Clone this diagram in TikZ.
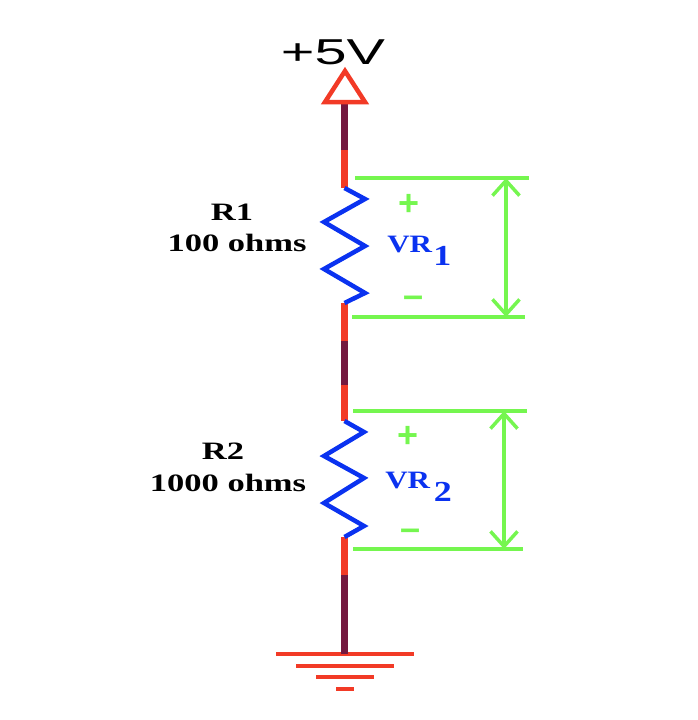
\documentclass[tikz,border=0pt]{standalone}
\usepackage{fontspec}
\setmainfont{Liberation Serif}
\newfontfamily\railfont{Liberation Sans}
\usetikzlibrary{arrows.meta}
\definecolor{wirered}{HTML}{F23A26}
\definecolor{wiredark}{HTML}{74183F}
\definecolor{zigblue}{HTML}{0A32F0}
\definecolor{measgreen}{HTML}{75F64F}
\tikzset{
  redwire/.style={draw=wirered,line width=7pt},
  darkwire/.style={draw=wiredark,line width=7pt},
  zigzag/.style={draw=zigblue,line width=4.5pt,line join=miter},
  measline/.style={draw=measgreen,line width=3.5pt},
  measarrow/.style={measline,{Straight Barb[length=15pt,width=27pt]}-{Straight Barb[length=15pt,width=27pt]}},
  gndline/.style={draw=wirered,line width=3.5pt},
  rlabel/.style={font=\bfseries\fontsize{25}{28}\selectfont,xscale=1.38,transform shape,inner sep=0pt,align=center},
  vlabel/.style={rlabel,xscale=0.9,text=zigblue},
  signlabel/.style={text=measgreen,inner sep=0pt,font=\railfont\bfseries\fontsize{36}{36}\selectfont}
}
\newcommand{\vsub}[1]{\raisebox{-13pt}{\fontsize{29}{29}\selectfont #1}}
\begin{document}
\begin{tikzpicture}[x=1pt,y=-1pt]
   \useasboundingbox (0,0) rectangle (698,720);
   % wire points
   \coordinate (railbase) at (344.5,104);
   \coordinate (railmid) at (344.5,150);
   \coordinate (r1top) at (344.5,188);
   \coordinate (r1bot) at (344.5,303);
   \coordinate (midA) at (344.5,341);
   \coordinate (midB) at (344.5,385);
   \coordinate (r2top) at (344.5,421);
   \coordinate (r2bot) at (344.5,537);
   \coordinate (lowmid) at (344.5,575);
   \coordinate (gnd) at (344.5,654);
   % wire
   \draw[redwire] (railmid) -- (r1top);
   \draw[darkwire] (railbase) -- (railmid);
   \draw[redwire] (r1bot) -- (midA);
   \draw[darkwire] (midA) -- (midB);
   \draw[redwire] (midB) -- (r2top);
   \draw[redwire] (r2bot) -- (lowmid);
   % supply
   \draw[draw=wirered,line width=4.5pt,line join=miter,fill=white] (345,71) -- (365,102) -- (325,102) -- cycle;
   \node[font=\railfont\fontsize{36}{36}\selectfont,xscale=1.6,transform shape,inner sep=0pt] (railtext) at (333,52) {+5V};
   % resistors
   \draw[zigzag] (r1top) -- (365,199) -- (324,222) -- (365,246) -- (324,269) -- (365,293) -- (r1bot);
   \draw[zigzag] (r2top) -- (364,432) -- (324,456) -- (364,478) -- (324,503) -- (364,526) -- (r2bot);
   \node[rlabel] (r1name) at (232,212) {R1};
   \node[rlabel] (r1val) at (237,243) {100 ohms};
   \node[rlabel] (r2name) at (223,451) {R2};
   \node[rlabel] (r2val) at (228,483) {1000 ohms};
   % voltages
   \node[vlabel,anchor=base west] (vr1) at (387,252) {VR\hspace{1pt}\vsub{1}};
   \node[vlabel,anchor=base west] (vr2) at (385,488) {VR\hspace{3pt}\vsub{2}};
   \node[signlabel] (vr1plus) at (409,205) {+};
   \node[signlabel] (vr1minus) at (414,302) {\textendash};
   \node[signlabel] (vr2plus) at (408,437) {+};
   \node[signlabel] (vr2minus) at (411,535) {\textendash};
   % measuring lines
   \coordinate (m1a) at (355,178);
   \coordinate (m1b) at (529,178);
   \coordinate (m1c) at (352,317);
   \coordinate (m1d) at (525,317);
   \coordinate (m2a) at (353,411);
   \coordinate (m2b) at (527,411);
   \coordinate (m2c) at (353,549);
   \coordinate (m2d) at (523,549);
   \coordinate (a1top) at (506,178);
   \coordinate (a1bot) at (506,317);
   \coordinate (a2top) at (504,411);
   \coordinate (a2bot) at (504,549);
   \draw[measline] (m1a) -- (m1b);
   \draw[measline] (m1c) -- (m1d);
   \draw[measline] (m2a) -- (m2b);
   \draw[measline] (m2c) -- (m2d);
   \draw[measarrow] (a1top) -- (a1bot);
   \draw[measarrow] (a2top) -- (a2bot);
   % ground
   \coordinate (g1a) at (276,654);
   \coordinate (g1b) at (414,654);
   \coordinate (g2a) at (296,666);
   \coordinate (g2b) at (394,666);
   \coordinate (g3a) at (316,677);
   \coordinate (g3b) at (374,677);
   \coordinate (g4a) at (336,689);
   \coordinate (g4b) at (354,689);
   \draw[gndline] (g1a) -- (g1b);
   \draw[gndline] (g2a) -- (g2b);
   \draw[gndline] (g3a) -- (g3b);
   \draw[gndline] (g4a) -- (g4b);
   \draw[darkwire] (lowmid) -- (gnd);
\end{tikzpicture}
\end{document}
